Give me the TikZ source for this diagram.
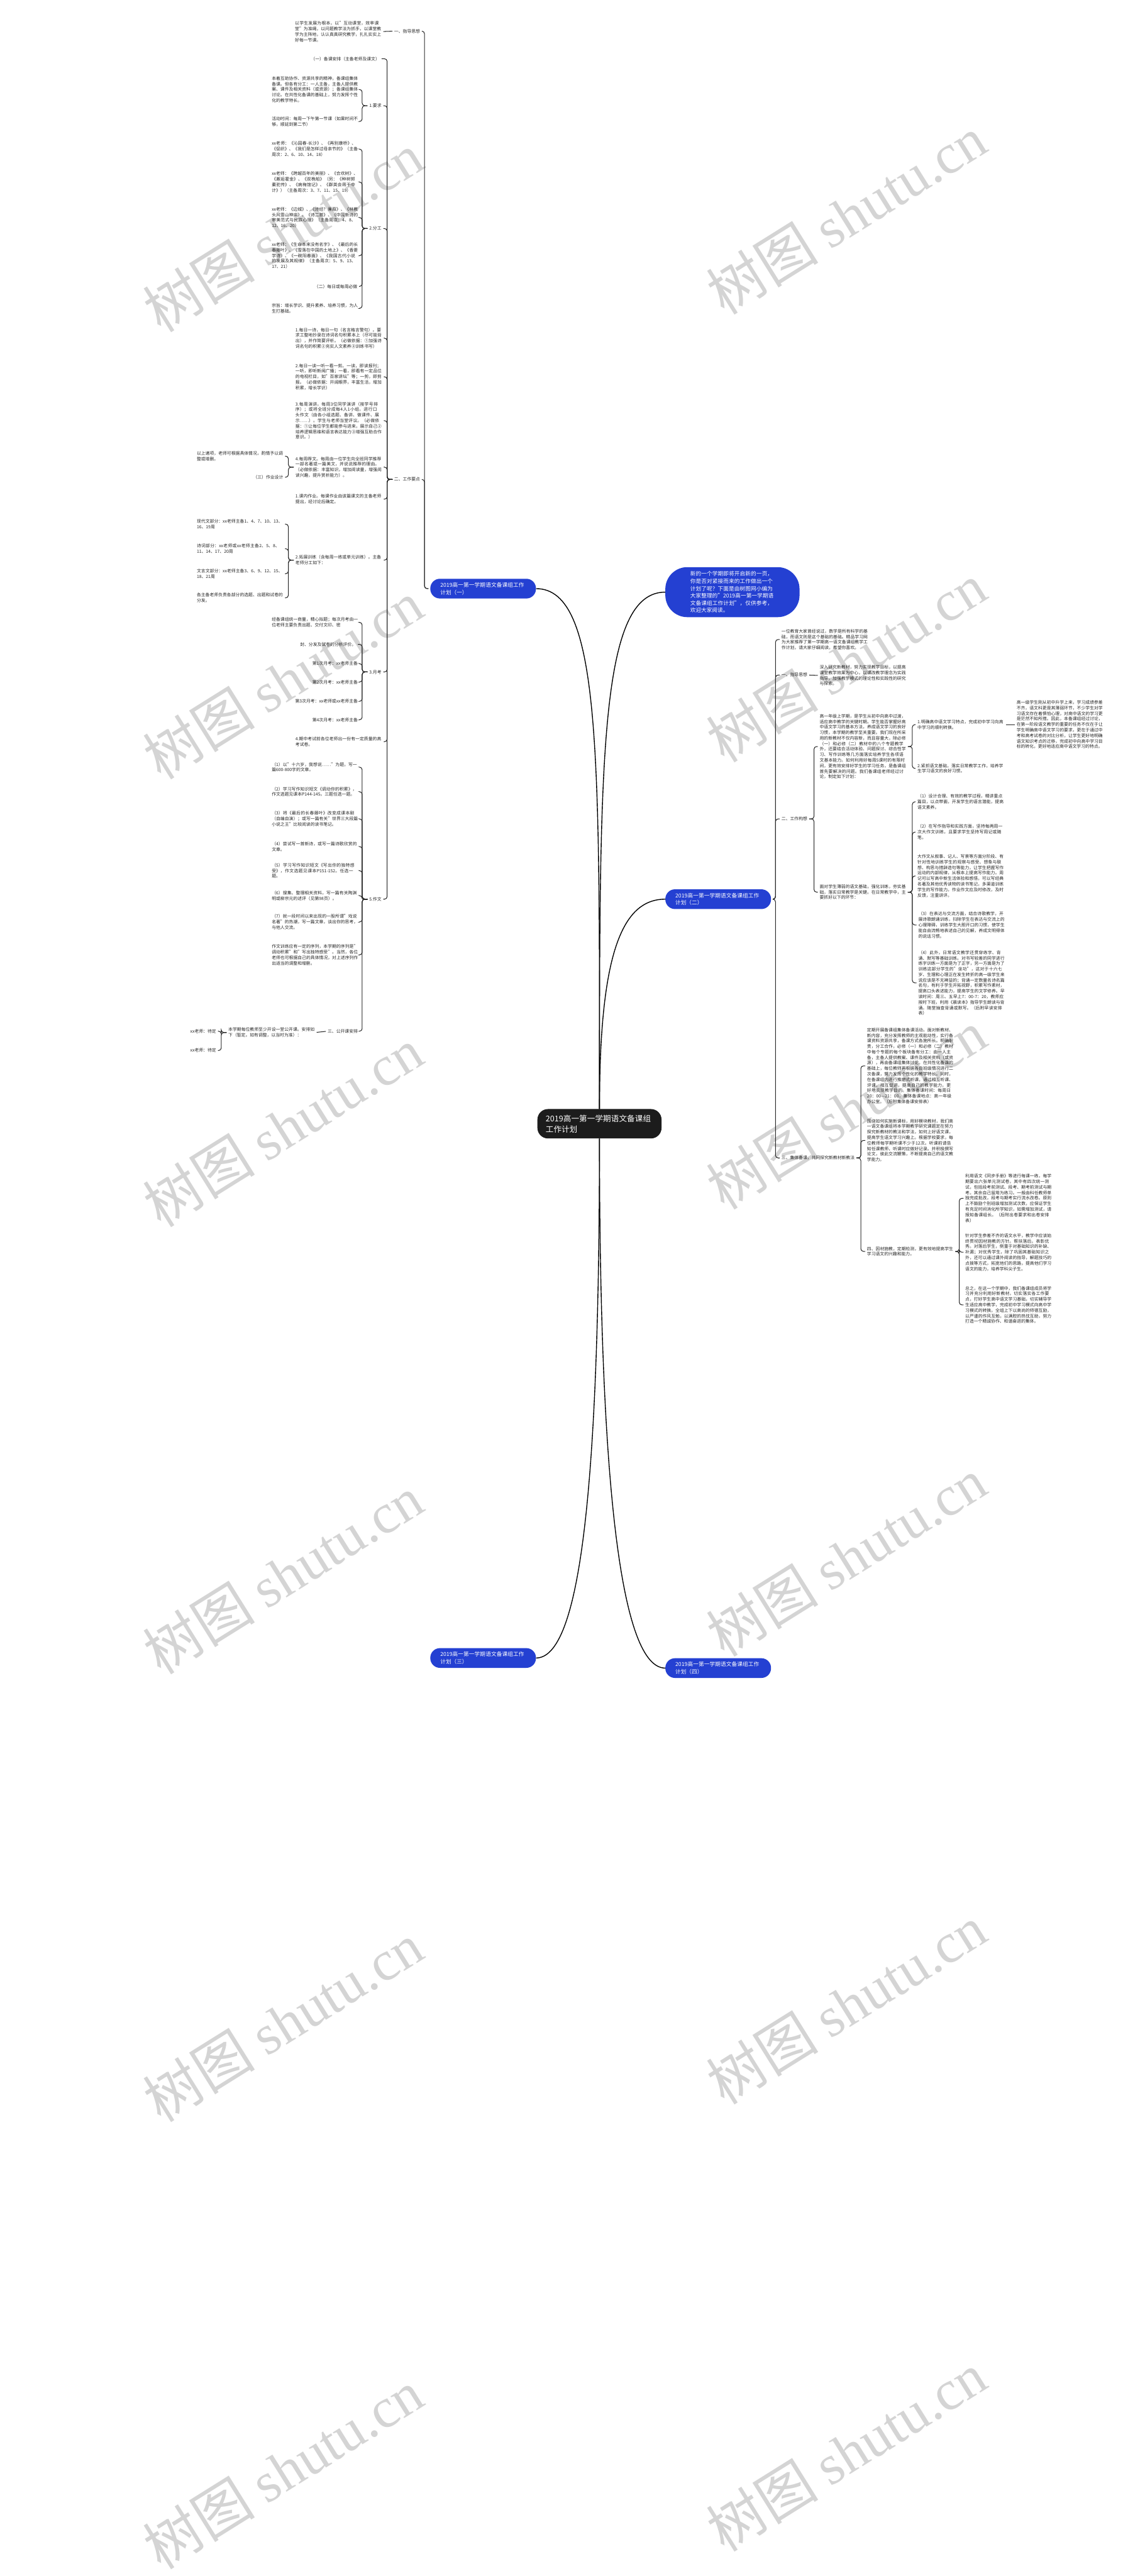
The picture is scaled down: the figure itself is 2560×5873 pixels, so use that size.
\documentclass[tikz,border=0pt]{standalone}
\usepackage{fontspec}
\setmainfont{Noto Sans CJK SC}
\newfontfamily\stampfont{Liberation Serif}
\XeTeXlinebreaklocale "zh"
\XeTeXlinebreakskip=0pt plus 1pt
\usetikzlibrary{positioning}
\definecolor{mmblue}{RGB}{36,64,210}
\definecolor{mmline}{RGB}{40,40,40}
\definecolor{mmhub}{RGB}{28,28,28}
\definecolor{mmstamp}{RGB}{212,212,212}

\begin{document}
\begin{tikzpicture}[
    x=1pt, y=-1pt,
    %% ── node styles ──────────────────────────────────────────────
    leaf/.style={inner sep=0pt, text width=197pt, align=left,
        font=\fontsize{9.8}{12.6}\selectfont, text=black!85},
    tag/.style={inner sep=0pt, font=\fontsize{9.8}{12.6}\selectfont,
        text=black!85},
    branch/.style={fill=mmblue, text=white, rounded corners=22pt,
        inner xsep=23pt, inner ysep=0pt, minimum height=45pt,
        text width=195pt, align=left,
        font=\fontsize{12.4}{16.7}\selectfont},
    hub/.style={fill=mmhub, text=white, rounded corners=24pt,
        inner xsep=19pt, inner ysep=0pt, minimum height=67pt,
        text width=245pt, align=left, font=\fontsize{18}{24}\selectfont},
    stamp/.style={rotate=32, text=mmstamp, inner sep=0pt,
        font=\fontsize{128}{128}\selectfont},
    %% ── edge styles ──────────────────────────────────────────────
    link/.style={draw=mmline, line width=1.5pt, rounded corners=6pt,
        shorten <=4pt, shorten >=4pt},
    trunk/.style={draw=black, line width=2pt},
]
\fill[white] (0,0) rectangle (2560,5873);
\useasboundingbox (0,0) rectangle (2560,5873);

%% ── watermark ───────────────────────────────────────────────────
\foreach \y in {530,1550,2570,3590,4610,5630}
    \node[stamp] (wl\y) at (645,\y) {树图 {\stampfont shutu.cn}};
\foreach \y in {490,1510,2530,3550,4570,5590}
    \node[stamp] (wr\y) at (1930,\y) {树图 {\stampfont shutu.cn}};

%% ── centre and main branches ────────────────────────────────────
\node[hub] (root) at (1367,2562) {2019高一第一学期语文备课组工作计划};
\node[branch, anchor=west] (b1) at (981,1342) {2019高一第一学期语文备课组工作计划（一）};
\node[branch, anchor=west] (b2) at (1517,2050) {2019高一第一学期语文备课组工作计划（二）};
\node[branch, anchor=west] (b3) at (981,3780) {2019高一第一学期语文备课组工作计划（三）};
\node[branch, anchor=west] (b4) at (1517,3803) {2019高一第一学期语文备课组工作计划（四）};
\node[branch, anchor=west, rounded corners=50pt, inner xsep=57pt,
      minimum height=114pt, text width=192pt] (intro) at (1517,1350)
    {新的一个学期即将开启新的一页，你是否对紧接而来的工作做出一个计划了呢？下面是由树图网小编为大家整理的"2019高一第一学期语文备课组工作计划"，仅供参考，欢迎大家阅读。};

\draw[trunk] (root.north) .. controls +(0,-800) and +(150,0) .. (b1.east);
\draw[trunk] (root.north) .. controls +(0,-800) and +(-150,0) .. (intro.west);
\draw[trunk] (root.north) .. controls +(0,-350) and +(-100,0) .. (b2.west);
\draw[trunk] (root.south) .. controls +(0,800) and +(100,0) .. (b3.east);
\draw[trunk] (root.south) .. controls +(0,800) and +(-100,0) .. (b4.west);

%% ── plan (一): left, top ───────────────────────────────────────
\node[tag, anchor=east] (l1) at (958,71) {一、指导思想};
\node[leaf, anchor=east] (l1a) at (870,72) {以学生发展为根本，以"互动课堂，效率课堂"为准绳，以问题教学法为抓手，以课堂教学为主阵地，认认真真研究教学，扎扎实实上好每一节课。};

\node[tag, anchor=east] (l2) at (958,1093) {二、工作要点};
\node[tag, anchor=east] (l2a) at (866,134) {（一）备课安排（主备老师及课文）};
\node[tag, anchor=east] (l2b) at (870,241) {1.要求};
\node[leaf, anchor=east] (l2b1) at (817,204) {本着互助协作、资源共享的精神，备课组集体备课。但各有分工：一人主备，主备人提供教案、课件及相关资料（或资源）；备课组集体讨论。在共性化备课的基础上，努力发挥个性化的教学特长。};
\node[leaf, anchor=east] (l2b2) at (817,277) {活动时间：每周一下午第一节课（如果时间不够，顺延到第二节）};
\node[tag, anchor=east] (l2c) at (870,521) {2.分工};
\node[leaf, anchor=east] (l2c1) at (817,340) {xx老师：《沁园春-长沙》、《再别康桥》、《促织》、《我们是怎样过母亲节的》（主备周次：2、6、10、14、18）};
\node[leaf, anchor=east] (l2c2) at (817,415) {xx老师：《跨越百年的美丽》、《合欢树》、《邂逅霍金》、《双桅船》（另：《种树郭橐驼传》、《病梅馆记》、《群英会蒋干中计》）（主备周次：3、7、11、15、19）};
\node[leaf, anchor=east] (l2c3) at (817,496) {xx老师：《边城》、《诗经？蒹葭》、《林教头风雪山神庙》、《诗二首》、《中国新诗的审美范式与民族心理》（主备周次：4、8、12、16、20）};
\node[leaf, anchor=east] (l2c4) at (817,583) {xx老师：《生命本来没有名字》、《最后的长春藤叶》、《雪落在中国的土地上》、《香菱学诗》、《一碗阳春面》、《我国古代小说的发展及其规律》（主备周次：5、9、13、17、21）};
\node[tag, anchor=east] (l2c5) at (815,653) {（二）每日或每周必做};
\node[leaf, anchor=east] (l2c6) at (817,703) {宗旨：增长学识、提升素养、培养习惯，为人生打基础。};
\node[leaf, anchor=east] (l2d) at (871,771) {1.每日一诗，每日一句（名言格言警句）。要求工整地抄录在诗词名句积累本上（尽可能背出），并作简要评析。（必做依据：①加强诗词名句的积累②充实人文素养③训练书写）};
\node[leaf, anchor=east] (l2e) at (871,859) {2.每日一读一听一看一剪。一读，即读报刊；一听，即听新闻广播；一看，即看有一定品位的电视栏目，如"百家讲坛"等；一剪，即剪报。（必做依据：开阔眼界，丰富生活，增加积累，增长学识）};
\node[leaf, anchor=east] (l2f) at (871,959) {3.每周演讲。每周3位同学演讲（按学号排序）；或将全班分成每4人1小组，进行口头作文（由各小组选题、备讲、做课件、展示……）。学生与老师当堂评议。（必做依据：①让每位学生都能参与进来，展示自己②培养逻辑思维和语言表达能力③增强互助合作意识。）};
\node[leaf, anchor=east] (l2g) at (871,1065) {4.每周荐文。每周由一位学生向全班同学推荐一部名著或一篇美文，并说说推荐的理由。（必做依据：丰富知识，增加阅读量，增强阅读兴趣，提升赏析能力）。};
\node[leaf, anchor=east] (l2g1) at (646,1040) {以上诸项，老师可根据具体情况，酌情予以调整或增删。};
\node[tag, anchor=east] (l2g2) at (646,1088) {（三）作业设计};
\node[leaf, anchor=east] (l2h) at (871,1138) {1.课内作业。每课作业由该篇课文的主备老师提出，经讨论后确定。};
\node[leaf, anchor=east] (l2i) at (871,1277) {2.拓展训练（含每周一练或单元训练）。主备老师分工如下：};
\node[leaf, anchor=east] (l2i1) at (646,1195) {现代文部分：xx老师主备1、4、7、10、13、16、19周};
\node[leaf, anchor=east] (l2i2) at (646,1251) {诗词部分：xx老师或xx老师主备2、5、8、11、14、17、20周};
\node[leaf, anchor=east] (l2i3) at (646,1308) {文言文部分：xx老师主备3、6、9、12、15、18、21周};
\node[leaf, anchor=east] (l2i4) at (646,1363) {各主备老师负责各部分的选题、出题和试卷的分发。};
\node[tag, anchor=east] (l2j) at (870,1532) {3.月考};
\node[leaf, anchor=east] (l2j1) at (817,1419) {经备课组统一商量，精心拟题；每次月考由一位老师主要负责出题、交付文印、密};
\node[tag, anchor=east] (l2j2) at (812,1469) {封、分发及试卷的分析评价。};
\node[tag, anchor=east] (l2j3) at (816,1513) {第1次月考：xx老师主备};
\node[tag, anchor=east] (l2j4) at (816,1555) {第2次月考：xx老师主备};
\node[tag, anchor=east] (l2j5) at (816,1599) {第3次月考：xx老师或xx老师主备};
\node[tag, anchor=east] (l2j6) at (816,1641) {第4次月考：xx老师主备};
\node[leaf, anchor=east] (l2k) at (871,1691) {4.期中考试前各位老师出一份有一定质量的高考试卷。};
\node[tag, anchor=east] (l2l) at (870,2050) {5.作文};
\node[leaf, anchor=east] (l2l1) at (817,1749) {（1）以"十六岁，我想说……"为题，写一篇600-800字的文章。};
\node[leaf, anchor=east] (l2l2) at (817,1805) {（2）学习写作知识短文《调动你的积累》，作文选题见课本P144-145。三题任选一题。};
\node[leaf, anchor=east] (l2l3) at (817,1867) {（3）将《最后的长春藤叶》改变成课本剧（自编自演）；或写一篇有关"世界三大段篇小说之王"比较阅读的读书笔记。};
\node[leaf, anchor=east] (l2l4) at (817,1930) {（4）尝试写一首新诗，或写一篇诗歌欣赏的文章。};
\node[leaf, anchor=east] (l2l5) at (817,1985) {（5）学习写作知识短文《写出你的独特感受》，作文选题见课本P151-152。任选一题。};
\node[leaf, anchor=east] (l2l6) at (817,2042) {（6）搜集、整理相关资料，写一篇有关陶渊明或柳宗元的述评（见第98页）。};
\node[leaf, anchor=east] (l2l7) at (817,2102) {（7）就一段时间以来出现的一股所谓"戏说名著"的热潮，写一篇文章，谈出你的思考，与他人交流。};
\node[leaf, anchor=east] (l2l8) at (817,2177) {作文训练应有一定的序列，本学期的序列是"调动积累"和"写出独特感受"。当然，各位老师也可根据自己的具体情况，对上述序列作出适当的调整和增删。};
\node[tag, anchor=east] (l2l9) at (816,2351) {三、公开课安排};
\node[leaf, anchor=east] (l2m) at (718,2354) {本学期每位教师至少开设一堂公开课。安排如下（暂定。如有调整，以当时为准）：};
\node[tag, anchor=east] (l2m3) at (493,2351) {xx老师：待定};
\node[tag, anchor=east] (l2m4) at (493,2395) {xx老师：待定};

%% plan (一) connectors
\foreach \c in {l1,l2}
    \draw[link] (b1.west) -- ++(-13,0) |- (\c.east);
\draw[link] (l1.west) -- (l1a.east);
\foreach \c in {l2a,l2b,l2c,l2d,l2e,l2f,l2g,l2h,l2i,l2j,l2k,l2l}
    \draw[link] (l2.west) -- ++(-16,0) |- (\c.east);
\foreach \c in {l2b1,l2b2}
    \draw[link] (l2b.west) -- ++(-16,0) |- (\c.east);
\foreach \c in {l2c1,l2c2,l2c3,l2c4,l2c5,l2c6}
    \draw[link] (l2c.west) -- ++(-16,0) |- (\c.east);
\foreach \c in {l2g1,l2g2}
    \draw[link] (l2g.west) -- ++(-16,0) |- (\c.east);
\foreach \c in {l2i1,l2i2,l2i3,l2i4}
    \draw[link] (l2i.west) -- ++(-16,0) |- (\c.east);
\foreach \c in {l2j1,l2j2,l2j3,l2j4,l2j5,l2j6}
    \draw[link] (l2j.west) -- ++(-16,0) |- (\c.east);
\foreach \c in {l2l1,l2l2,l2l3,l2l4,l2l5,l2l6,l2l7,l2l8,l2l9}
    \draw[link] (l2l.west) -- ++(-16,0) |- (\c.east);
\draw[link] (l2l9.west) -- (l2m.east);
\foreach \c in {l2m3,l2m4}
    \draw[link] (l2m.west) -- ++(-16,0) |- (\c.east);

%% ── plan (二): right, top ──────────────────────────────────────
\node[leaf, anchor=west] (r1) at (1782,1458) {一位教育大家曾经说过，数学是所有科学的基础，而语文则是这个基础的基础。精品学习网为大家推荐了第一学期高一语文备课组教学工作计划，请大家仔细阅读，希望你喜欢。};
\node[tag, anchor=west] (r2) at (1782,1539) {一、指导思想};
\node[leaf, anchor=west] (r2a) at (1869,1540) {深入研究新教材，努力实现教学目标，以提高课堂教学效果为中心，以课改教学理念为实践指导，加强教学模式的理论性和实践性的研究与探索。};
\node[tag, anchor=west] (r3) at (1782,1867) {二、工作构想};
\node[leaf, anchor=west] (r3a) at (1869,1702) {高一年级上学期，是学生从初中向高中过渡，适应高中教学的关键时期。学生能否掌握好高中语文学习的基本方法，养成语文学习的良好习惯，本学期的教学至关重要。我们现在所采用的新教材不仅内容新，而且容量大，除必修（一）和必修（二）教材中的八个专题教学外，还要结合活动体验、问题探讨、综合性学习、写作训练等几方面落实培养学生各项语文基本能力。如何利用好每周5课时的有限时间，更有效安排好学生的学习任务，是备课组首先要解决的问题。我们备课组老师经过讨论，制定如下计划：};
\node[leaf, anchor=west] (r3a1) at (2092,1652) {1.明确高中语文学习特点，完成初中学习向高中学习的顺利转换。};
\node[leaf, anchor=west] (r3a1a) at (2318,1652) {高一级学生刚从初中升学上来，学习成绩参差不齐，语文科更是其薄弱环节，不少学生对学习语文存在着惧怕心理，对高中语文的学习更是茫然不知所措。因此，本备课组经过讨论，在第一阶段语文教学的重要的任务不仅在于让学生明确高中语文学习的要求，更在于通过中考和高考试卷的对比分析，让学生更好地明确语文知识考点的迁移，完成初中向高中学习目标的转化，更好地适应高中语文学习的特点。};
\node[leaf, anchor=west] (r3a2) at (2092,1752) {2.紧抓语文基础，落实日常教学工作，培养学生学习语文的良好习惯。};
\node[leaf, anchor=west] (r3b) at (1869,2034) {面对学生薄弱的语文基础，强化训练，夯实基础，落实日常教学是关键。在日常教学中，主要抓好以下的环节：};
\node[leaf, anchor=west] (r3b1) at (2092,1828) {（1）设计合理、有效的教学过程，精讲重点篇目，以点带面，开发学生的语言潜能，提高语文素养。};
\node[leaf, anchor=west] (r3b2) at (2092,1897) {（2）在写作指导和实践方面，坚持每两周一次大作文训练，且要求学生坚持写周记或随笔。};
\node[leaf, anchor=west] (r3b3) at (2092,1997) {大作文从叙事、记人、写景等方面分阶段、有针对性地训练学生的观察与感受、想象与联想、构思与措辞造句等能力，让学生把握写作运动的内部规律，从根本上提高写作能力。周记可以写高中新生活体验和感悟，可以写经典名著及其他优秀读物的读书笔记，多渠道训练学生的写作能力。作业作文应及时修改，及时反馈，注重讲评。};
\node[leaf, anchor=west] (r3b4) at (2094,2109) {（3）在表达与交流方面，结合诗歌教学，开展诗歌朗诵训练，扫除学生在表达与交流上的心理障碍，训练学生大胆开口的习惯，使学生能自由流畅地表述自己的见解，养成文明得体的说话习惯。};
\node[leaf, anchor=west] (r3b5) at (2094,2241) {（4）此外，日常语文教学还贯穿练字、背诵、默写等基础训练。对书写较差的同学进行练字训练一方面是为了正字，另一方面是为了训练这部分学生的"坐功"，这对于十六七岁、生理和心理正在发生转折的高一级学生来说应该是不无裨益的；背诵一定数量名诗名篇名句，有利于学生开拓视野，积累写作素材，提高口头表述能力，提高学生的文学修养。早读时间：周三、五早上7：00-7：20，教师应按时下班，利用《晨读本》指导学生朗读与背诵。随堂抽查背诵或默写。（后附早读安排表）};
\node[tag, anchor=west] (r4) at (1782,2640) {三、集体备课，共同探究新教材新教法};
\node[leaf, anchor=west] (r4a) at (1977,2430) {定期开展备课组集体备课活动。面对新教材、新内容，充分发挥教师的主观能动性，实行备课资料资源共享，备课方式各施所长。明确职责，分工合作，必修（一）和必修（二）教材中每个专题的每个板块备有分工：由一人主备，主备人提供教案、课件及相关资料（或资源），再由备课组集体讨论。在共性化备课的基础上，每位教师再根据各自班级情况进行二次备课，努力发挥个性化的教学特长。同时，在备课组内进行推磨式听课，通过相互听课、评课，相互促进，提高自己的教学能力，更好地实现教学目的。集体备课时间：每周日20：00—21：00，集体备课地点：高一年级办公室。（后附集体备课安排表）};
\node[leaf, anchor=west] (r4b) at (1977,2600) {围绕如何实施新课标，用好模块教材，我们高一语文备课组将本学期教学研究课题定在努力探究新教材的教法和学法，如何上好语文课，提高学生语文学习兴趣上。根据学校要求，每位教师每学期听课不少于12次。听课前请告知任课教师，听课时应做好记录。并积极撰写论文，彼此交流鞭策，不断提高自己的语文教学能力。};
\node[leaf, anchor=west] (r4c) at (1977,2853) {四、因材施教，定期检测，更有效地提高学生学习语文的兴趣和能力。};
\node[leaf, anchor=west] (r4c1) at (2201,2732) {利用语文《同步手册》等进行每课一练，每学期要出六张单元测试卷，其中有四次统一测试，包括段考前测试、段考、期考前测试与期考。其余自己留用为练习。一般由科任教师单独完成批改，段考与期考实行流水改卷。原则上不鼓励个别班级增加测试次数，应保证学生有充足时间消化所学知识，如需增加测试，请报知备课组长。（后附出卷要求和出卷安排表）};
\node[leaf, anchor=west] (r4c2) at (2201,2855) {针对学生参差不齐的语文水平，教学中应该始终贯彻因材施教的方针。帮扶落后，表彰优秀。对落后学生，侧重于对基础知识的补缺、补漏；对优秀学生，除了巩固其基础知识之外，还可以通过课外阅读的指导，解题技巧的点拨等方式，拓宽他们的思路，提高他们学习语文的能力，培养学科尖子生。};
\node[leaf, anchor=west] (r4c3) at (2201,2975) {总之，在这一个学期中，我们备课组成员将学习并充分利用好新教材，切实落实各工作要点，打好学生高中语文学习基础，切实辅导学生适应高中教学，完成初中学习模式向高中学习模式的转换。全组上下以高尚的师德互励，以严谨的作风互勉，以满腔的热忱互助，努力打造一个精诚协作、和谐奋进的集体。};

%% plan (二) connectors
\foreach \c in {r1,r2,r3,r4}
    \draw[link] (b2.east) -- ++(10,0) |- (\c.west);
\draw[link] (r2.east) -- (r2a.west);
\foreach \c in {r3a,r3b}
    \draw[link] (r3.east) -- ++(15,0) |- (\c.west);
\foreach \c in {r3a1,r3a2}
    \draw[link] (r3a.east) -- ++(14,0) |- (\c.west);
\draw[link] (r3a1.east) -- (r3a1a.west);
\foreach \c in {r3b1,r3b2,r3b3,r3b4,r3b5}
    \draw[link] (r3b.east) -- ++(14,0) |- (\c.west);
\foreach \c in {r4a,r4b,r4c}
    \draw[link] (r4.east) -- ++(14,0) |- (\c.west);
\foreach \c in {r4c1,r4c2,r4c3}
    \draw[link] (r4c.east) -- ++(13,0) |- (\c.west);

\end{tikzpicture}
\end{document}
